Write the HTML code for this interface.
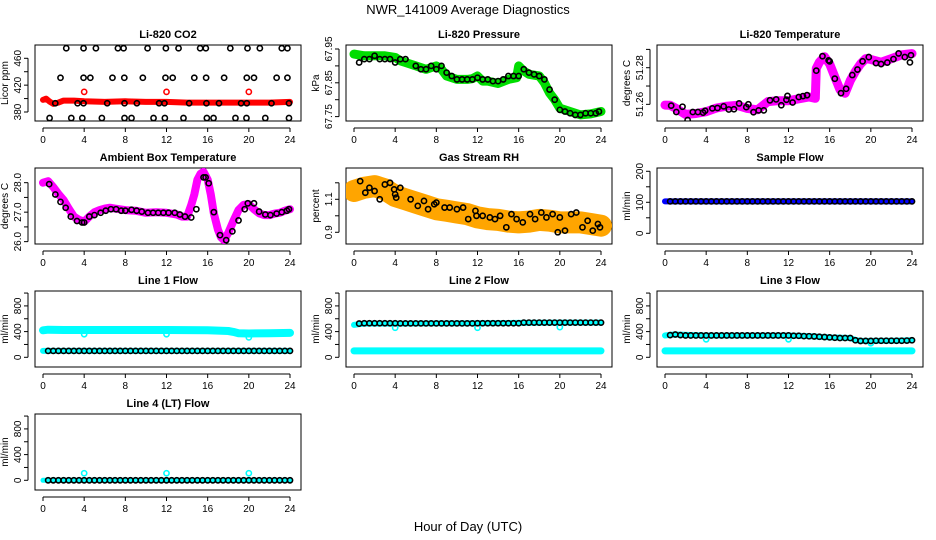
<!DOCTYPE html>
<html><head><meta charset="utf-8">
<style>
html,body{margin:0;padding:0;background:#fff;}
svg{display:block;font-family:"Liberation Sans",Arial,sans-serif;}
</style></head>
<body>
<svg id="chart" width="936" height="540" viewBox="0 0 936 540" xmlns="http://www.w3.org/2000/svg">
<text x="468" y="14" text-anchor="middle" font-size="13">NWR_141009  Average Diagnostics</text>
<text x="468" y="531" text-anchor="middle" font-size="13">Hour of Day (UTC)</text>
</svg>
<script>
// ---- data ----
const halfHours=[0.5,1,1.5,2,2.5,3,3.5,4,4.5,5,5.5,6,6.5,7,7.5,8,8.5,9,9.5,10,10.5,11,11.5,12,12.5,13,13.5,14,14.5,15,15.5,16,16.5,17,17.5,18,18.5,19,19.5,20,20.5,21,21.5,22,22.5,23,23.5,24];
const xTicks=[0,4,8,12,16,20,24];

const co2BandT=[0,0.3,0.6,1,1.5,2,3,4,6,8,10,12,14,16,18,20,22,24];
const co2BandV=[398,400,396,392,394,397,397,396,395,396,395,395,394,394,394,394,394,395];
const co2OutT=[4,12,20];
const co2OutV=[410,410,410];
const co2BlackT=[2.26,3.94,5.14,7.28,7.83,10.16,11.94,13.17,15.27,15.82,18.2,19.87,21.07,23.2,23.75,
 1.7,3.94,4.6,6.75,7.9,9.7,11.9,12.6,14.7,15.85,17.6,19.8,20.5,22.7,23.75,
 1.19,3.36,3.94,6.24,7.92,9.12,11.28,11.8,14.2,15.88,17.1,19.25,19.8,22.2,23.9,
 0.64,2.75,3.82,5.72,7.92,8.6,10.74,11.84,13.65,15.92,16.57,18.7,19.77,21.6,23.9];
const co2BlackV=[475,475,475,475,475,475,475,475,475,475,475,475,475,475,475,
 431,431,431,431,431,431,431,431,431,431,431,431,431,431,431,
 393,393,393,393,393,393,393,393,393,393,393,393,393,393,393,
 371,371,371,371,371,371,371,371,371,371,371,371,371,371,371];

const presBandT=[0,1,2,3,4,4.5,5,6,7,7.5,8,8.5,9,10,11,11.5,12,12.5,13,14,15,15.8,16,16.5,17,18,18.5,19,19.5,20,21,22,23,24];
const presBandV=[67.935,67.93,67.93,67.93,67.925,67.915,67.91,67.9,67.89,67.895,67.9,67.89,67.87,67.86,67.86,67.862,67.87,67.855,67.855,67.848,67.86,67.865,67.9,67.885,67.875,67.87,67.85,67.82,67.8,67.775,67.765,67.755,67.758,67.765];
const presBlackT=[0.5,1,1.5,2,2.5,3,3.5,4,4.5,5,6,6.5,7,7.5,8,8.5,9,9.5,10,10.5,11,11.5,12,12.5,13,13.5,14,14.5,15,15.5,16,16.5,17,17.5,18,18.5,19,19.5,20,20.5,21,21.5,22,22.5,23,23.5,23.8];
const presBlackV=[67.91,67.92,67.92,67.93,67.92,67.92,67.92,67.91,67.92,67.92,67.9,67.89,67.89,67.9,67.89,67.9,67.88,67.87,67.86,67.86,67.86,67.86,67.865,67.86,67.86,67.855,67.855,67.86,67.87,67.87,67.87,67.89,67.88,67.875,67.87,67.86,67.83,67.8,67.77,67.765,67.76,67.755,67.755,67.76,67.76,67.76,67.765];

const tempBandT=[0,0.5,1,2,3,4,5,6,7,8,9,10,11,12,13,14,14.6,14.7,15,15.5,16,16.5,17,17.5,18,18.5,19,19.5,20,21,22,23,24];
const tempBandV=[51.2596,51.2595,51.258,51.2545,51.255,51.256,51.258,51.259,51.2595,51.2578,51.257,51.2615,51.262,51.262,51.263,51.264,51.2633,51.2797,51.283,51.286,51.282,51.275,51.268,51.266,51.273,51.278,51.282,51.285,51.2845,51.283,51.285,51.287,51.2877];
const tempBlackT=[0.6,1.1,1.7,2.2,2.7,3.2,3.7,3.9,4.6,5.1,5.7,6.2,6.7,7.2,7.9,8.1,8.6,9.1,9.6,10.2,10.8,11.3,11.8,11.9,12.4,13,13.4,13.8,14.7,15.3,15.9,16,16.5,17.1,17.6,18.2,18.7,19.2,19.8,20.5,21,21.6,22.2,22.7,23.3,23.8,23.9];
const tempBlackV=[51.2593,51.2558,51.2587,51.2514,51.2558,51.2558,51.2555,51.2565,51.2578,51.2580,51.2589,51.2572,51.2573,51.2605,51.2585,51.2600,51.2557,51.2567,51.2567,51.2622,51.2627,51.2595,51.2625,51.2646,51.2610,51.2640,51.2645,51.2650,51.2784,51.2863,51.2840,51.2835,51.2740,51.2661,51.2685,51.2760,51.2790,51.2835,51.2858,51.2825,51.2820,51.2828,51.2847,51.2878,51.2858,51.2829,51.2868];

const ambBandT=[0,0.5,1,1.5,2,2.5,3,3.5,4,4.5,5,5.5,6,6.5,7,8,9,10,11,12,13,13.5,14,14.4,14.7,15,15.3,15.6,16,16.3,16.6,17,17.3,17.6,18,18.5,19,19.5,20,20.5,21,21.5,22,22.5,23,23.5,24];
const ambBandV=[28.0,28.05,27.85,27.62,27.41,27.12,26.85,26.74,26.68,26.85,27.0,27.07,27.12,27.15,27.12,27.07,27.05,26.98,27.0,26.98,26.92,26.85,26.85,27.24,27.6,28.1,28.3,28.37,28.1,27.6,26.96,26.4,26.15,26.05,26.3,26.7,27.07,27.25,27.27,27.1,26.96,26.9,26.9,26.95,26.98,27.05,27.1];
const ambBlackT=[0.6,1.2,1.7,2.2,2.7,3.3,3.8,4.0,4.5,5,5.6,6.1,6.6,7.1,7.6,8,8.6,9.1,9.6,10.2,10.7,11.2,11.7,12.2,12.8,13.3,13.8,14.4,14.9,15.6,15.8,16.1,16.6,17.2,17.8,18.4,19,19.6,19.9,20.5,21,21.6,22.1,22.7,23.2,23.7,23.9];
const ambBlackV=[27.95,27.6,27.35,27.15,26.85,26.7,26.65,26.65,26.85,26.9,26.98,27.05,27.1,27.1,27.05,27.05,27.08,27.05,27.02,26.98,26.98,26.98,26.98,26.98,26.98,26.92,26.85,26.82,27.1,28.18,28.18,27.98,27.0,26.22,26.05,26.35,26.72,27.1,27.3,27.3,27.02,26.92,26.9,26.95,27.0,27.05,27.1];

const rhBandT=[0,1,2,3,4,5,6,7,8,9,10,11,12,13,14,15,16,17,18,19,20,21,22,23,24];
const rhBandV=[1.15,1.17,1.18,1.16,1.12,1.1,1.08,1.06,1.04,1.03,1.02,1.01,0.99,0.98,0.975,0.965,0.96,0.965,0.975,0.97,0.96,0.96,0.96,0.95,0.94];
const rhBlackT=[0.6,1.1,1.5,2,2.5,3,3.5,3.9,4,4.1,4.5,5.5,6.2,6.8,7.2,7.8,8,8.8,9.3,10,10.6,11.1,11.8,11.9,12.5,13.2,13.7,14.2,14.8,15.3,15.8,16.4,17.1,17.6,18.2,18.7,19.3,19.8,20,20.5,21.1,21.6,22.2,22.7,23.2,23.7,23.9];
const rhBlackV=[1.21,1.14,1.17,1.15,1.10,1.19,1.2,1.16,1.13,1.11,1.17,1.1,1.06,1.09,1.04,1.07,1.08,1.05,1.05,1.04,1.05,0.98,1.03,1.0,1.0,0.99,0.98,1.0,0.93,1.01,0.98,0.96,1.01,0.98,1.02,0.99,1.01,0.9,0.99,0.91,1.01,1.02,0.93,0.97,0.91,0.95,0.93];

const sampleBandT=[0,24];
const sampleBandV=[103,103];
const sampleBlackV=[103,103,103,103,103,103,103,103,103,103,103,103,103,103,103,103,103,103,103,103,103,103,103,103,103,103,103,103,103,103,103,103,103,103,103,103,103,103,103,103,103,103,103,103,103,103,103,103];

const l1HighT=[0,0.5,2,4,8,12,16,18,18.5,19,20,22,24];
const l1HighV=[420,430,425,425,425,425,420,410,395,375,370,375,380];
const l1LowT=[0,24];
const l1LowV=[100,100];
const l1OutT=[4,12,20];
const l1OutV=[360,360,310];
const l1BlackV=[100,100,100,100,100,100,100,100,100,100,100,100,100,100,100,100,100,100,100,100,100,100,100,100,100,100,100,100,100,100,100,100,100,100,100,100,100,100,100,100,100,100,100,100,100,100,100,100];

const l2HighT=[0,0.5,1,4,8,12,16,20,24];
const l2HighV=[505,515,525,525,528,530,535,540,540];
const l2LowT=[0,24];
const l2LowV=[100,100];
const l2OutT=[4,12,20];
const l2OutV=[460,460,470];
const l2BlackV=[525,530,530,530,530,530,530,530,528,528,528,528,528,528,528,528,528,528,528,528,528,528,528,530,530,530,530,530,530,530,530,530,540,540,540,540,540,540,540,540,540,540,540,540,540,540,540,540];

const l3HighT=[0,0.5,1,4,8,12,14,16,18,18.5,19,20,22,24];
const l3HighV=[340,350,355,340,340,340,330,310,300,270,255,255,258,265];
const l3LowT=[0,24];
const l3LowV=[100,100];
const l3OutT=[4,12,20];
const l3OutV=[280,280,220];
const l3BlackV=[345,355,345,340,340,340,340,340,340,340,340,340,340,340,340,340,340,340,340,340,340,340,340,340,335,335,330,328,325,320,315,310,305,300,300,300,265,255,255,255,258,258,258,258,258,258,260,265];

const l4BandT=[0,24];
const l4BandV=[0,0];
const l4OutT=[4,12,20];
const l4OutV=[110,110,110];
const l4BlackV=[0,0,0,0,0,0,0,0,0,0,0,0,0,0,0,0,0,0,0,0,0,0,0,0,0,0,0,0,0,0,0,0,0,0,0,0,0,0,0,0,0,0,0,0,0,0,0,0];

// ---- drawing ----
const NS="http://www.w3.org/2000/svg";
const svg=document.getElementById('chart');
const colL=[35,346,657], colR=[301,612,923], rowT=[45,168,291,414], boxH=76;

function mk(tag,attrs,parent){const e=document.createElementNS(NS,tag);for(const k in attrs)e.setAttribute(k,attrs[k]);(parent||svg).appendChild(e);return e;}

function makePanel(slug,title,ylab,col,row,ymin,ymax,yTicks,yLabels){
  const g=mk('g',{});
  
  
  const L=colL[col],R=colR[col],T=rowT[row],B=T+boxH;
  const x=v=>L+8+v*(R-L-19)/24;
  const y=v=>B-(v-ymin)/(ymax-ymin)*boxH;
  const box=mk('rect',{x:L,y:T,width:R-L,height:boxH,fill:'none',stroke:'#000','stroke-width':1},g);
  
  
  const t=mk('text',{x:(L+R)/2,y:T-7,'text-anchor':'middle','font-size':11,'font-weight':'bold'},g);
  t.textContent=title;
  
  
  const xa=mk('g',{},g);
  
  
  mk('line',{x1:x(xTicks[0]),x2:x(xTicks[xTicks.length-1]),y1:B+7,y2:B+7,stroke:'#000'},xa);
  xTicks.forEach(v=>{
    mk('line',{x1:x(v),x2:x(v),y1:B+7,y2:B+11,stroke:'#000'},xa);
    const tl=mk('text',{x:x(v),y:B+22,'text-anchor':'middle','font-size':10},xa);
    tl.textContent=v;
    
    
  });
  const ya=mk('g',{},g);
  
  
  mk('line',{x1:L-7,x2:L-7,y1:y(yTicks[0]),y2:y(yTicks[yTicks.length-1]),stroke:'#000'},ya);
  yTicks.forEach(v=>{mk('line',{x1:L-11,x2:L-7,y1:y(v),y2:y(v),stroke:'#000'},ya);});
  yLabels.forEach(v=>{
    const tl=mk('text',{x:0,y:0,'text-anchor':'middle','font-size':10,transform:`translate(${L-14},${y(v)}) rotate(-90)`},ya);
    tl.textContent=v;
    
    
  });
  const yl=mk('text',{x:0,y:0,'text-anchor':'middle','font-size':10,transform:`translate(${L-27},${T+boxH/2}) rotate(-90)`},g);
  yl.textContent=ylab;
  
  
  const clipId='clip-'+slug;
  const cp=mk('clipPath',{id:clipId},g);
  mk('rect',{x:L,y:T,width:R-L,height:boxH},cp);
  const plot=mk('g',{'clip-path':`url(#${clipId})`},g);
  return {x,y,g:plot};
}
function band(p,ts,vs,color,w,name){
  const pts=ts.map((t,i)=>p.x(t).toFixed(1)+','+p.y(vs[i]).toFixed(1)).join(' ');
  const pl=mk('polyline',{points:pts,fill:'none',stroke:color,'stroke-width':w,'stroke-linejoin':'round','stroke-linecap':'round'},p.g);
  
  
}
function points(p,ts,vs,color,name){
  ts.forEach((t,i)=>{
    const c=mk('circle',{cx:p.x(t),cy:p.y(vs[i]),r:2.6,fill:'none',stroke:color,'stroke-width':1.6},p.g);
    
    
  });
}

let p;
p=makePanel('co2','Li-820 CO2','Licor ppm',0,0,366.6,479.8,[380,400,420,440,460],[380,420,460]);
band(p,co2BandT,co2BandV,'#ff0000',6,'co2-red-series');
points(p,co2OutT,co2OutV,'#ff0000','co2-red-point');
points(p,co2BlackT,co2BlackV,'#000','co2-black-point');

p=makePanel('pressure','Li-820 Pressure','kPa',1,0,67.737,67.9618,[67.75,67.8,67.85,67.9,67.95],['67.75','67.85','67.95']);
band(p,presBandT,presBandV,'#00dd00',9,'pressure-green-series');
points(p,presBlackT,presBlackV,'#000','pressure-black-point');

p=makePanel('licor-temp','Li-820 Temperature','degrees C',2,0,51.2509,51.2924,[51.26,51.27,51.28,51.29],['51.26','51.28']);
band(p,tempBandT,tempBandV,'#ff00ff',9,'licor-temp-magenta-series');
points(p,tempBlackT,tempBlackV,'#000','licor-temp-black-point');

p=makePanel('ambient','Ambient Box Temperature','degrees C',0,1,25.92,28.498,[26,26.5,27,27.5,28],['26.0','27.0','28.0']);
band(p,ambBandT,ambBandV,'#ff00ff',8,'ambient-magenta-series');
points(p,ambBlackT,ambBlackV,'#000','ambient-black-point');

p=makePanel('rh','Gas Stream RH','percent',1,1,0.829,1.2897,[0.9,1.0,1.1,1.2],['0.9','1.1']);
band(p,rhBandT,rhBandV,'#ffa500',22,'rh-orange-series');
points(p,rhBlackT,rhBlackV,'#000','rh-black-point');

p=makePanel('sample-flow','Sample Flow','ml/min',2,1,-34.5,210.6,[0,50,100,150,200],[0,100,200]);
band(p,sampleBandT,sampleBandV,'#0000ff',6,'sample-flow-blue-series');
points(p,halfHours,sampleBlackV,'#000','sample-flow-black-point');

p=makePanel('line1','Line 1 Flow','ml/min',0,2,-151,1032,[0,200,400,600,800,1000],[0,400,800]);
band(p,l1HighT,l1HighV,'#00ffff',8,'line1-cyan-high-series');
band(p,l1LowT,l1LowV,'#00ffff',6,'line1-cyan-low-series');
points(p,l1OutT,l1OutV,'#00ffff','line1-cyan-point');
points(p,halfHours,l1BlackV,'#000','line1-black-point');

p=makePanel('line2','Line 2 Flow','ml/min',1,2,-151,1032,[0,200,400,600,800,1000],[0,400,800]);
band(p,l2HighT,l2HighV,'#00ffff',6,'line2-cyan-high-series');
band(p,l2LowT,l2LowV,'#00ffff',7,'line2-cyan-low-series');
points(p,l2OutT,l2OutV,'#00ffff','line2-cyan-point');
points(p,halfHours,l2BlackV,'#000','line2-black-point');

p=makePanel('line3','Line 3 Flow','ml/min',2,2,-151,1032,[0,200,400,600,800,1000],[0,400,800]);
band(p,l3HighT,l3HighV,'#00ffff',6,'line3-cyan-high-series');
band(p,l3LowT,l3LowV,'#00ffff',7,'line3-cyan-low-series');
points(p,l3OutT,l3OutV,'#00ffff','line3-cyan-point');
points(p,halfHours,l3BlackV,'#000','line3-black-point');

p=makePanel('line4','Line 4 (LT) Flow','ml/min',0,3,-151,1032,[0,200,400,600,800,1000],[0,400,800]);
band(p,l4BandT,l4BandV,'#00ffff',5,'line4-cyan-series');
points(p,l4OutT,l4OutV,'#00ffff','line4-cyan-point');
points(p,halfHours,l4BlackV,'#000','line4-black-point');
</script>
</body></html>
